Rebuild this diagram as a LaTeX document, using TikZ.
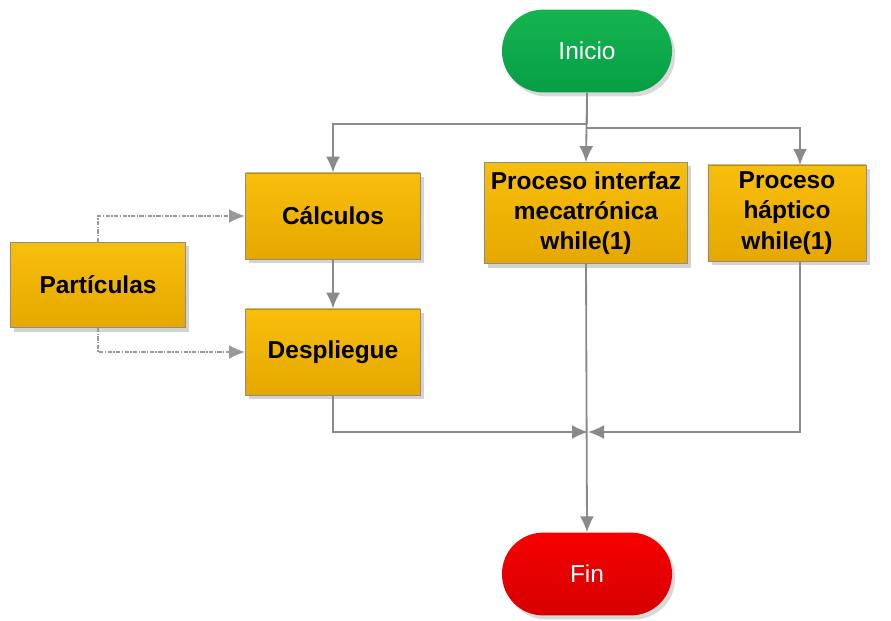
\documentclass[tikz,border=0pt]{standalone}
\usepackage{fontspec}
\setmainfont{Liberation Sans}
\usetikzlibrary{arrows.meta,shadows}
\tikzset{>={Latex[length=4mm,width=3.5mm]}}
\definecolor{boxtop}{HTML}{F8BE0C}
\definecolor{boxbot}{HTML}{E6A800}
\definecolor{flowgray}{HTML}{8A8A8A}
\def\boxtext{\fontsize{17.4}{21.5}\selectfont\bfseries}
\tikzset{
  proc/.style={draw=black!45, line width=0.6pt, top color=boxtop, bottom color=boxbot,
    align=center, inner sep=1pt, font=\boxtext,
    drop shadow={opacity=0.35, shadow xshift=0.09cm, shadow yshift=-0.1cm}},
  term/.style={minimum width=4.25cm, minimum height=2.07cm, rounded corners=1.03cm,
    text=white, font=\fontsize{17.4}{20.6}\selectfont,
    drop shadow={opacity=0.3, shadow xshift=0.08cm, shadow yshift=-0.1cm}},
  flow/.style={draw=flowgray, line width=1.3pt, ->, color=flowgray},
  side/.style={flow, draw=black!40, line width=1.2pt, dash pattern=on 3pt off 1pt on 1pt off 1pt},
}
\begin{document}
\begin{tikzpicture}[x=0.025cm, y=-0.025cm]
  \useasboundingbox (0,0) rectangle (891,620);

  \node[term, top color={rgb,255:red,22;green,180;blue,80}, bottom color={rgb,255:red,6;green,158;blue,70}] (inicio) at (587,51) {Inicio};
  \node[proc, minimum width=4.375cm, minimum height=2.15cm] (calc) at (333,216) {C\'alculos};
  \node[proc, minimum width=4.375cm, minimum height=2.15cm] (despl) at (333,352) {Despliegue};
  \node[proc, minimum width=5.075cm, minimum height=2.525cm] (interfaz) at (586,213) {Proceso interfaz\\mecatr\'onica\\while(1)};
  \node[proc, minimum width=3.95cm, minimum height=2.4cm] (haptico) at (787,213) {Proceso\\h\'aptico\\while(1)};
  \node[proc, minimum width=4.375cm, minimum height=2.125cm] (part) at (98,285) {Part\'iculas};
  \node[term, top color={rgb,255:red,246;green,0;blue,0}, bottom color={rgb,255:red,214;green,0;blue,0}] (fin) at (587,574) {Fin};

  \coordinate (splitl) at (587,124);
  \coordinate (splitr) at (587,128);
  \coordinate (haptin) at (800,165);
  \coordinate (haptout) at (800,261);
  \coordinate (junc) at (588,432);

  % salida de Inicio
  \draw[flow, -] (inicio.south) -- (splitl);
  \draw[flow] (splitl) -| (calc.north);
  \draw[flow] (splitr) -| (haptin);
  \draw[flow] (inicio.south) -- (interfaz.north);
  \draw[flow] (calc) -- (despl);

  % llegada a Fin
  \draw[flow] (despl.south) |- (junc);
  \draw[flow] (haptout) |- (junc);
  \draw[flow] (interfaz.south) -- (fin.north);

  \draw[side] (part.north) |- (calc.west);
  \draw[side] (part.south) |- (despl.west);
\end{tikzpicture}
\end{document}
